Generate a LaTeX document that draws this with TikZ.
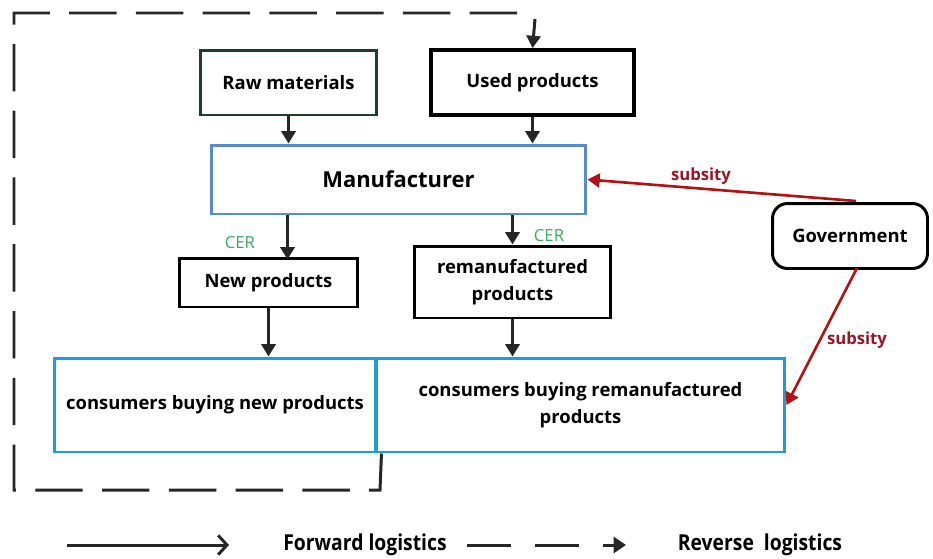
\documentclass[tikz,border=0pt]{standalone}
\usepackage{fontspec}
\setmainfont{Open Sans}
\usetikzlibrary{arrows.meta}
\definecolor{rawgreen}{RGB}{28,62,44}
\definecolor{mfgblue}{RGB}{88,138,210}
\definecolor{consblue}{RGB}{28,160,208}
\definecolor{subred}{RGB}{178,18,22}
\definecolor{sublabel}{RGB}{150,22,40}
\definecolor{cergreen}{RGB}{60,168,100}
\tikzset{
	box/.style={draw, line width=1.7pt, align=center, font=\bfseries\fontsize{10.5}{15}\selectfont, inner sep=2pt},
	flow/.style={line width=1.7pt, draw=black!85, -{Triangle[length=7pt,width=8pt]}},
	subsidy/.style={line width=1.5pt, draw=subred, -{Triangle[length=7pt,width=8pt]}},
	cer/.style={text=cergreen, font=\fontsize{9.5}{10}\selectfont},
	sub/.style={text=sublabel, font=\bfseries\fontsize{9.5}{10}\selectfont},
	back/.style={line width=1.7pt, draw=black!85, dash pattern=on 27pt off 11pt}
}

\begin{document}
\begin{tikzpicture}[x=0.02cm, y=-0.02cm]
		%%%%% START %%%%%
		\useasboundingbox (0,0) rectangle (933,558);
		
		\node[box, draw=rawgreen, minimum width=3.54cm, minimum height=1.3cm] (raw) at (288.5,82.5) {Raw materials};
		\node[box, line width=2.2pt, minimum width=4.06cm, minimum height=1.3cm] (used) at (532.5,82.5) {Used products};
		\node[box, draw=mfgblue, minimum width=7.5cm, minimum height=1.38cm, font=\bfseries\fontsize{12.5}{14}\selectfont] (mfg) at (398.5,179.5) {Manufacturer};
		
		\node[box, minimum width=3.58cm, minimum height=0.98cm] (newp) at (268.5,282.5) {New products};
		\node[box, minimum width=3.94cm, minimum height=1.44cm] (remp) at (512.5,282) {remanufactured\\products};
		
		\node[box, rounded corners=0.3cm, minimum width=3.1cm, minimum height=1.3cm] (gov) at (850,236) {Government};
		
		\node[box, draw=consblue, minimum width=6.44cm, minimum height=1.88cm] (cnew) at (215,405) {consumers buying new products};
		\node[box, draw=consblue, minimum width=8.18cm, minimum height=1.88cm] (crem) at (580.5,405) {consumers buying remanufactured\\products};
		
		% forward flow
		\draw[flow] (raw.south) -- (raw.south |- mfg.north);
		\draw[flow] (used.south) -- (used.south |- mfg.north);
		\draw[flow] (mfg.south -| newp.north) ++(19,0) -- ++(0,44) coordinate (n1);
		\draw[flow] (mfg.south -| remp.north) -- (remp.north);
		\draw[flow] (newp.south) -- (newp.south |- cnew.north);
		\draw[flow] (remp.south) -- (remp.south |- crem.north);
		\node[cer] (cer1) at (240,243) {CER};
		\node[cer] (cer2) at (549,236) {CER};
		
		% subsidies
		\coordinate (g1) at (856,201);
		\coordinate (g2) at (857,268);
		\draw[subsidy] (g1) -- (mfg.east);
		\draw[subsidy] (g2) -- (crem.east);
		\node[sub] (sub1) at (701,176) {subsity};
		\node[sub] (sub2) at (857,340) {subsity};
		
		% reverse flow
		\coordinate (r1) at (380,490);
		\coordinate (r2) at (14,490);
		\coordinate (r3) at (14,13);
		\coordinate (r4) at (535,13);
		\draw[back] (cnew.south east) ++(4,0) -- (r1) -- (r2) -- (r3) -- (r4);
		\draw[flow] (r4) ++(0,6) -- (used.north);
		
		% legend
		\coordinate (fw1) at (67,545);
		\coordinate (fw2) at (229,545);
		\coordinate (rv1) at (467,545);
		\coordinate (rv2) at (626,545);
		\draw[line width=1.7pt, black!85, -{Straight Barb[length=5pt,width=11pt]}] (fw1) -- (fw2);
		\draw[line width=1.7pt, black!85, dash pattern=on 25pt off 13.6pt, -{Triangle[length=7pt,width=9pt]}] (rv1) -- (rv2);
		\node[font=\bfseries\fontsize{12.5}{13}\selectfont, xscale=0.88] (fwd) at (365,545) {Forward logistics};
		\node[font=\bfseries\fontsize{12.5}{13}\selectfont, xscale=0.88] (rev) at (760,545) {Reverse~ logistics};
		%%%%% END %%%%%
	\end{tikzpicture}
\end{document}
